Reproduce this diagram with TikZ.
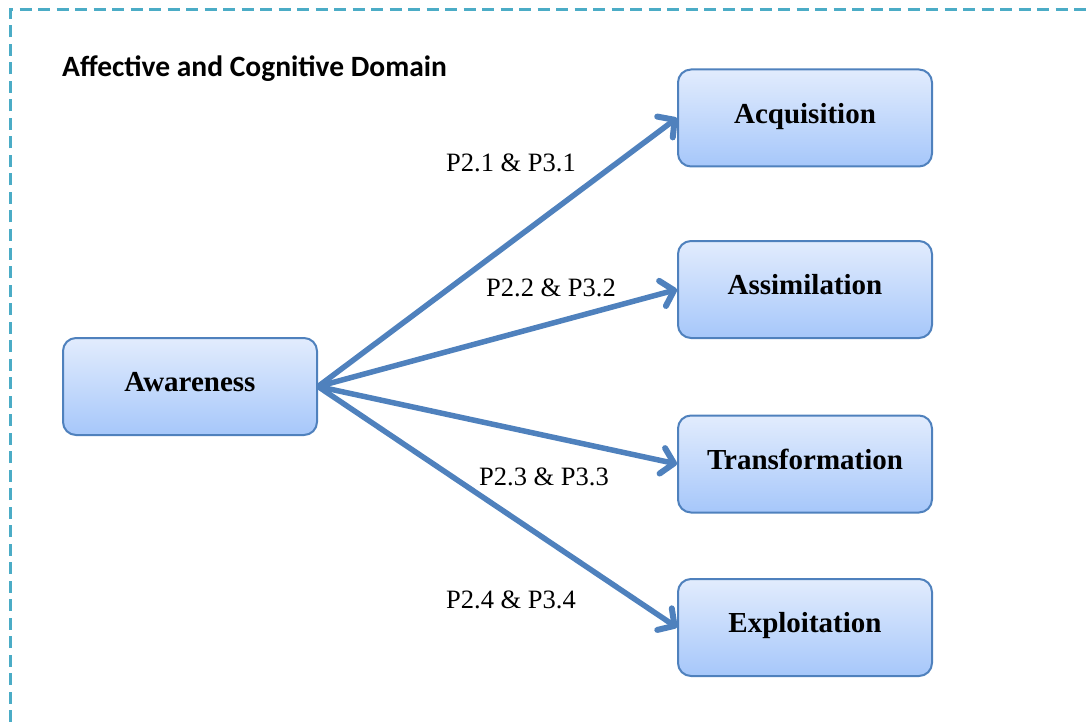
\documentclass[tikz,border=0pt]{standalone}
\usepackage{fontspec}
\setmainfont{Liberation Serif}
\newfontfamily\titlefont{Carlito}
\usetikzlibrary{arrows.meta}
\definecolor{boxline}{HTML}{4F81BD}
\definecolor{arrowc}{HTML}{4F81BD}
\definecolor{dashc}{HTML}{4BACC6}
\definecolor{boxtop}{RGB}{226,236,253}
\definecolor{boxbot}{RGB}{166,199,250}
\tikzset{
  stagebox/.style={draw=boxline, line width=2pt, rounded corners=13pt,
    top color=boxtop, bottom color=boxbot,
    minimum width=254pt, minimum height=97pt, inner sep=0pt,
    font=\fontsize{29}{31}\selectfont\bfseries},
  linkarrow/.style={draw=arrowc, line width=5.5pt,
    -{Straight Barb[length=12pt,width=26pt,line width=6pt,round]}},
  linklabel/.style={font=\fontsize{26.5}{28}\selectfont, inner sep=0pt}
}
\begin{document}
\begin{tikzpicture}[x=1pt,y=-1pt]
\useasboundingbox (0,0) rectangle (1092,722);
\draw[dashc, line width=3pt, dash pattern=on 12pt off 6.5pt] (10,722) -- (10,10) -- (1092,10);
\node[anchor=west, inner sep=0pt, font=\titlefont\fontsize{29.5}{31}\selectfont\bfseries] (title) at (62,69) {Affective and Cognitive Domain};
\node[stagebox] (aw) at (190,386.5) {\raisebox{10pt}{Awareness}};
\node[stagebox] (acq) at (805,118) {\raisebox{10pt}{Acquisition}};
\node[stagebox] (ass) at (805,289.5) {\raisebox{10pt}{Assimilation}};
\node[stagebox] (tra) at (805,464) {\raisebox{10pt}{Transformation}};
\node[stagebox] (exp) at (805,627.5) {\raisebox{10pt}{Exploitation}};
\draw[linkarrow] (aw.east) -- (acq.west);
\draw[linkarrow] (aw.east) -- (ass.west);
\draw[linkarrow] (aw.east) -- (tra.west);
\draw[linkarrow] (aw.east) -- (exp.west);
\node[linklabel] (l1) at (511,163) {P2.1 \& P3.1};
\node[linklabel] (l2) at (551,288) {P2.2 \& P3.2};
\node[linklabel] (l3) at (544,477) {P2.3 \& P3.3};
\node[linklabel] (l4) at (511,600) {P2.4 \& P3.4};
\end{tikzpicture}
\end{document}
